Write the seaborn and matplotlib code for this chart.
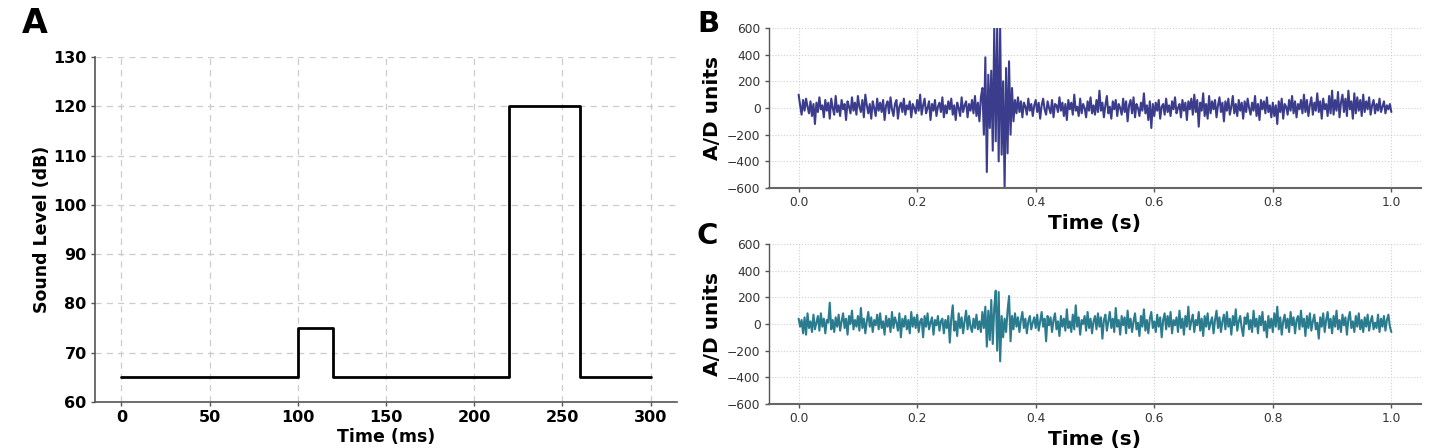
import numpy as np
import matplotlib
matplotlib.use("Agg")
import matplotlib.pyplot as plt
import seaborn as sns
import pandas as pd

# panel A: stimulus step levels (ms, dB)
stim_time = [0, 100, 120, 220, 260, 300]
stim_level = [65, 75, 65, 120, 65, 65]

# panels B/C: recorded traces, 401 samples over 1 s
trace_b = [
    100, 20, -50, 60, -20, 70, 10, -40, 50, -60, 30, -120, 40, -30, 80, -10, 20, -70, 60, -20,
    40, -80, 70, 0, -50, 90, -30, 20, -60, 60, -10, 30, -90, 50, 10, -40, 80, -20, 40, -50,
    90, 10, -30, 60, -70, 100, 20, -40, 30, -80, 50, 0, -60, 70, -20, 40, -30, 60, -90, 20,
    50, -40, 80, -10, -60, 30, 60, -80, 10, 40, -30, 70, -50, 20, -10, 50, -70, 30, 0, -40,
    60, -20, 100, -50, 20, 70, -40, 0, 50, -90, 30, -20, 60, -60, 10, 40, -30, 80, -70, 20,
    -40, 50, -10, 70, -50, 20, -90, 40, 0, -60, 80, -30, 20, 50, -70, 30, -20, 60, -40, 90,
    -60, 40, -100, 80, 150, -200, 380, -480, 250, -150, 280, -320, 600, -250, 620, -400, 600, -350, 200, -600,
    300, -340, 350, -200, 150, -100, 60, -40, 80, -30, 50, -70, 40, 10, -50, 70, -20, 30, -60, 20,
    60, -30, 40, -80, 20, 70, -10, -50, 50, 0, -40, 60, -70, 30, 20, -30, 80, -20, 40, -60,
    30, -90, 60, -10, 40, -50, 100, -20, 10, -60, 70, -40, 30, 0, -70, 50, -20, 80, -40, 20,
    -50, 60, -30, 130, -20, 40, -70, 20, 90, -40, 10, -80, 50, -10, 60, -60, 30, 0, -50, 70,
    -30, 50, -100, 20, 60, -40, 80, -70, 30, 0, -60, 40, -20, 110, -40, 20, -90, 50, -150, 30,
    -60, 40, -20, 60, -80, 10, 30, -50, 70, -30, 20, -60, 50, -10, 80, -40, 0, 30, -70, 60,
    -20, 40, -90, 50, -10, 70, -50, 100, -30, 60, -140, 40, -20, 110, -60, 30, -80, 90, -40, 50,
    -10, 60, -70, 20, 80, -30, 40, -100, 50, -20, 70, -50, 10, 90, -40, 30, -60, 60, -20, 40,
    -80, 50, -30, 70, 0, -50, 40, -20, 90, -60, 30, -90, 60, -10, 50, -40, 80, -30, 20, -70,
    40, -60, 20, -120, 50, -30, 70, -80, 30, 10, -50, 60, -20, 90, -40, 50, -70, 30, -10, 60,
    -40, 100, -30, 60, -60, 20, 80, -50, 40, -20, 110, -30, 50, -80, 70, -10, 30, -60, 90, -40,
    130, -50, 60, -20, 120, -70, 40, 100, -30, 70, -60, 130, -10, 50, -80, 110, -40, 80, -20, 60,
    -60, 100, -30, 50, -10, 80, -50, 20, 60, -40, 30, -20, 70, -30, 10, 50, -40, 20, -10, 30,
    -30,
]
trace_c = [
    40, -20, 30, -70, 50, -80, 80, -30, 20, -60, 70, -40, 10, 60, -50, 80, -20, 40, -70, 30,
    10, 160, -40, 30, -60, 50, -20, 70, -50, 20, 80, -30, 40, -80, 60, 0, 100, -40, 30, -20,
    60, -50, 120, -30, 40, -70, 20, 90, -20, 50, -60, 30, -10, 70, -40, 80, -30, 20, -80, 60,
    -20, 40, -60, 90, -30, 50, 10, -50, 80, -100, 40, -20, 60, -40, 30, -70, 90, -20, 50, -30,
    70, -60, 20, 40, -100, 60, -20, 80, -40, 10, 50, -80, 30, -10, 60, -50, 20, 40, -70, 30,
    -30, 60, -140, 40, 140, -50, 20, -90, 80, -30, 50, -70, 20, 100, -40, 60, -20, -60, 40, -30,
    70, -40, 20, -60, 90, -30, 130, -170, 100, -120, 180, -150, 120, 250, -200, 240, -280, 60, -100, 40,
    -60, 100, 210, -130, 60, -40, 80, -20, 50, -60, 30, 90, -30, 40, -70, 20, 60, -40, 10, 50,
    -30, 70, -50, 20, 90, -20, 40, -130, 60, -10, 50, -60, 30, 80, -40, 20, -90, 60, -20, 40,
    -50, 110, -30, 20, -60, 70, -40, 140, -20, 50, -80, 30, 0, 60, -50, 90, -30, 40, -70, 20,
    60, -40, 80, -20, 50, -110, 30, 70, -50, 20, 90, -30, 40, -60, 120, -20, 30, -80, 60, -10,
    50, -70, 100, -30, 40, -60, 20, 80, -40, 10, -90, 60, -20, 110, -50, 30, -70, 40, 90, -30,
    20, -60, 70, -20, 50, -100, 30, 80, -40, 60, -20, 90, -70, 30, -10, 50, -60, 100, -30, 40,
    -80, 60, -20, 130, -40, 20, 70, -60, 30, -10, 90, -50, 40, -90, 60, -20, 80, -40, 10, 50,
    -70, 30, 100, -30, 50, -60, 20, 70, -40, 90, -20, 40, -80, 60, -10, 110, -50, 20, 60, -30,
    -90, 50, 0, 80, -40, 30, -60, 100, -20, 40, -70, 60, -10, 90, -50, 20, -100, 60, -30, 40,
    -60, 80, -20, 130, -40, 50, -80, 20, 70, -30, 40, -60, 90, -10, 50, -70, 30, 60, -40, 100,
    -20, 40, -90, 60, -30, 80, -50, 20, 70, -40, 10, -110, 50, -20, 80, -60, 30, 90, -30, 40,
    -70, 60, -20, 100, -40, 30, -60, 70, -10, 50, -80, 40, 90, -30, 20, -60, 60, -20, 80, -40,
    30, -60, 50, -20, 70, -50, 20, 60, -40, 10, -30, 70, -60, 40, -20, 60, -50, 30, 70, -20,
    -60,
]
trace_time = np.linspace(0, 1, len(trace_b))

color_b = "#3b3d8c"
color_c = "#2a7b8e"

sns.set_style("ticks")
plt.rcParams['font.family'] = ['DejaVu Sans']
plt.rcParams['text.color'] = 'black'
plt.rcParams['axes.labelcolor'] = 'black'

W, H = 1431, 448
fig = plt.figure(figsize=(W / 100, H / 100), dpi=100)

def box(l, t, r, b):
    return [l / W, 1 - b / H, (r - l) / W, (b - t) / H]

# ---- panel A ----
axA = fig.add_axes(box(95, 57, 677, 402))
dfA = pd.DataFrame({'time': stim_time, 'level': stim_level})
sns.lineplot(data=dfA, x='time', y='level', ax=axA, color='black', lw=2.0,
             drawstyle='steps-post')
axA.set_xlim(-15, 315)
axA.set_ylim(60, 130)
axA.set_xticks(range(0, 301, 50))
axA.set_yticks(range(60, 131, 10))
axA.grid(True, linestyle=(0, (5, 4)), linewidth=0.9, color='#cccccc')
for s in ['top', 'right']:
    axA.spines[s].set_visible(False)
for s in ['bottom', 'left']:
    axA.spines[s].set_linewidth(1.2)
    axA.spines[s].set_color('#555555')
axA.tick_params(length=3, width=1, color='#555555', labelsize=11.5, pad=3,
                labelcolor='black')
for lbl in axA.get_xticklabels() + axA.get_yticklabels():
    lbl.set_fontweight('bold')
axA.set_xlabel('Time (ms)', fontsize=12.5, weight='bold', labelpad=2)
axA.set_ylabel('Sound Level (dB)', fontsize=12.5, weight='bold', labelpad=2)

# ---- panels B and C ----
def trace_panel(rect, values, color):
    ax = fig.add_axes(rect)
    df = pd.DataFrame({'t': trace_time, 'v': values})
    sns.lineplot(data=df, x='t', y='v', ax=ax, color=color, lw=1.5)
    ax.set_xlim(-0.05, 1.05)
    ax.set_ylim(-600, 600)
    ax.set_xticks(np.round(np.arange(0, 1.01, 0.2), 1))
    ax.set_yticks(range(-600, 601, 200))
    ax.grid(True, linestyle=':', linewidth=0.8, color='#cfcfcf')
    for s in ['top', 'right']:
        ax.spines[s].set_visible(False)
    ax.spines['bottom'].set_linewidth(1.5)
    ax.spines['bottom'].set_color('#666666')
    ax.spines['left'].set_linewidth(1.0)
    ax.spines['left'].set_color('#555555')
    ax.tick_params(length=3, width=1, color='#555555', labelsize=8.8,
                   labelcolor='#333333', pad=3)
    ax.set_xlabel('Time (s)', fontsize=14.5, weight='bold', labelpad=3)
    ax.set_ylabel('A/D units', fontsize=14.5, weight='bold', labelpad=4)
    return ax

axB = trace_panel(box(769, 28, 1421, 188), trace_b, color_b)
axC = trace_panel(box(769, 244, 1421, 404), trace_c, color_c)

# panel letters
fig.text(22 / W, 1 - 33 / H, 'A', fontsize=24, weight='bold', va='baseline')
fig.text(697 / W, 1 - 32 / H, 'B', fontsize=21, weight='bold', va='baseline')
fig.text(697 / W, 1 - 244 / H, 'C', fontsize=21, weight='bold', va='baseline')

fig.savefig('out.png', dpi=100)
